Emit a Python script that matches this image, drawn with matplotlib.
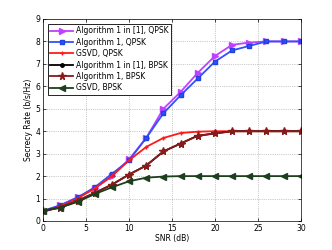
import numpy as np
import matplotlib
matplotlib.use('Agg')
import matplotlib.pyplot as plt

# SNR en dB
snr = np.arange(0, 31, 2)

alg1_ref_qpsk = [0.45, 0.7, 1.05, 1.45, 2.0, 2.75, 3.7, 5.0, 5.75, 6.6, 7.35, 7.85, 7.95, 8.0, 8.0, 8.0]
alg1_qpsk = [0.45, 0.7, 1.05, 1.5, 2.1, 2.7, 3.7, 4.8, 5.6, 6.35, 7.1, 7.6, 7.8, 8.0, 8.0, 8.0]
gsvd_qpsk = [0.4, 0.65, 1.0, 1.45, 2.0, 2.7, 3.3, 3.7, 3.92, 3.98, 4.0, 4.0, 4.0, 4.0, 4.0, 4.0]
alg1_ref_bpsk = [0.45, 0.6, 0.9, 1.25, 1.62, 2.07, 2.47, 3.1, 3.45, 3.8, 3.9, 4.0, 4.0, 4.0, 4.0, 4.0]
alg1_bpsk = [0.45, 0.6, 0.9, 1.25, 1.62, 2.07, 2.47, 3.1, 3.45, 3.8, 3.9, 4.0, 4.0, 4.0, 4.0, 4.0]
gsvd_bpsk = [0.45, 0.6, 0.85, 1.2, 1.5, 1.77, 1.93, 1.98, 2.0, 2.0, 2.0, 2.0, 2.0, 2.0, 2.0, 2.0]

labels = ['Algorithm 1 in [1], QPSK', 'Algorithm 1, QPSK', 'GSVD, QPSK',
          'Algorithm 1 in [1], BPSK', 'Algorithm 1, BPSK', 'GSVD, BPSK']

plt.rcParams['font.family'] = 'DejaVu Sans'
fig = plt.figure(figsize=(3.32, 2.5), dpi=100)
ax = fig.add_axes([0.13, 0.116, 0.776, 0.808])

lw = 1.3
ax.plot(snr, alg1_ref_qpsk, color='#c040ff', marker='>', ms=4.5, lw=lw, label=labels[0])
ax.plot(snr, alg1_qpsk, color='#3050ff', marker='s', ms=3.5, mfc='#3050ff', mec='#2040e0', lw=lw, label=labels[1])
ax.plot(snr, gsvd_qpsk, color='#ff1a1a', marker='+', ms=3.5, lw=lw, label=labels[2])
ax.plot(snr, alg1_ref_bpsk, color='black', marker='o', ms=2.5, lw=lw, label=labels[3])
ax.plot(snr, alg1_bpsk, color='#8b1a1a', marker='*', ms=5.5, lw=lw, label=labels[4])
ax.plot(snr, gsvd_bpsk, color='#1e3f1e', marker='<', ms=4.5, lw=lw, label=labels[5])

ax.set_xlim(0, 30)
ax.set_ylim(0, 9)
ax.set_xticks(range(0, 31, 5))
ax.set_yticks(range(0, 10))
ax.tick_params(labelsize=5.5, direction='in', length=2, width=0.5, pad=2, top=True, right=True)
for s in ax.spines.values():
    s.set_linewidth(0.5)
ax.grid(True, linestyle=':', linewidth=0.5, color='#999999')
ax.set_xlabel('SNR (dB)', fontsize=5.5, labelpad=1)
ax.set_ylabel('Secrecy Rate (b/s/Hz)', fontsize=5.5, labelpad=2)

leg = ax.legend(loc='upper left', fontsize=5.5, fancybox=False, framealpha=1,
                edgecolor='black', handlelength=3.0, borderpad=0.35, labelspacing=0.32,
                handletextpad=0.3, borderaxespad=0.6)
leg.get_frame().set_linewidth(0.6)

fig.savefig('out.png', dpi=100)
